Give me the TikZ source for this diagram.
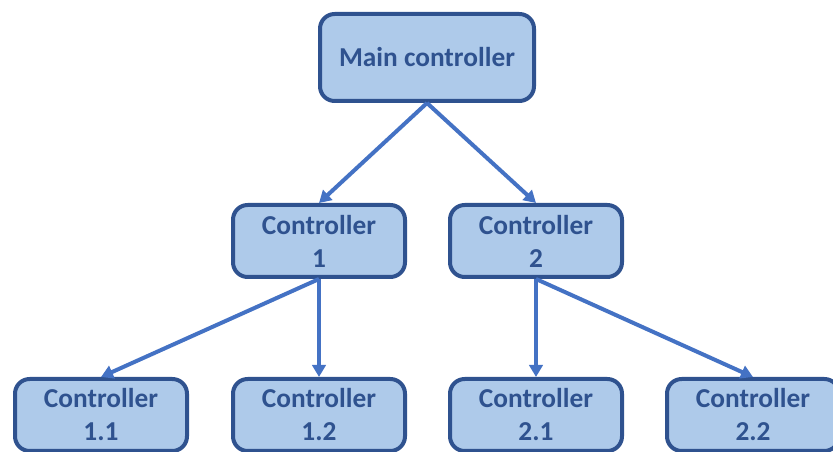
\documentclass[tikz,border=0pt]{standalone}
\usepackage{fontspec}
\setmainfont{Carlito}
\usetikzlibrary{arrows.meta}
\definecolor{boxfill}{RGB}{174,202,234}
\definecolor{boxline}{RGB}{47,82,143}
\definecolor{arrowblue}{RGB}{68,114,196}
\tikzset{
  ctrl/.style={rectangle,rounded corners=11pt,draw=boxline,fill=boxfill,line width=3pt,
    text=boxline,font=\fontsize{20.5}{24.75}\selectfont\bfseries,align=center,
    minimum width=129pt,minimum height=54pt,inner sep=0pt},
}
\begin{document}
\begin{tikzpicture}[x=0.75pt,y=-0.75pt]
    \useasboundingbox (0,0) rectangle (833,452);
    \clip (0,0) rectangle (833,452);
    \begin{scope}[every node/.style={ctrl}]
        \node[minimum width=160.5pt,minimum height=65.25pt] (M) at (427,57.5) {Main controller};
        \node (C1) at (319,241) {Controller\\1};
        \node (C2) at (536,241) {Controller\\2};
        \node (C11) at (101,415) {Controller\\1.1};
        \node (C12) at (319,415) {Controller\\1.2};
        \node (C21) at (536,415) {Controller\\2.1};
        \node (C22) at (753,415) {Controller\\2.2};
    \end{scope}

    \begin{scope}[>={Triangle[length=9pt,width=10pt]}]
        \path [->] (M.south) edge[draw=arrowblue,line width=3pt] (C1.north);
        \path [->] (M.south) edge[draw=arrowblue,line width=3pt] (C2.north);
        \path [->] (C1.south) edge[draw=arrowblue,line width=3pt] (C11.north);
        \path [->] (C1.south) edge[draw=arrowblue,line width=3pt] (C12.north);
        \path [->] (C2.south) edge[draw=arrowblue,line width=3pt] (C21.north);
        \path [->] (C2.south) edge[draw=arrowblue,line width=3pt] (C22.north);
    \end{scope}
\end{tikzpicture}
\end{document}
